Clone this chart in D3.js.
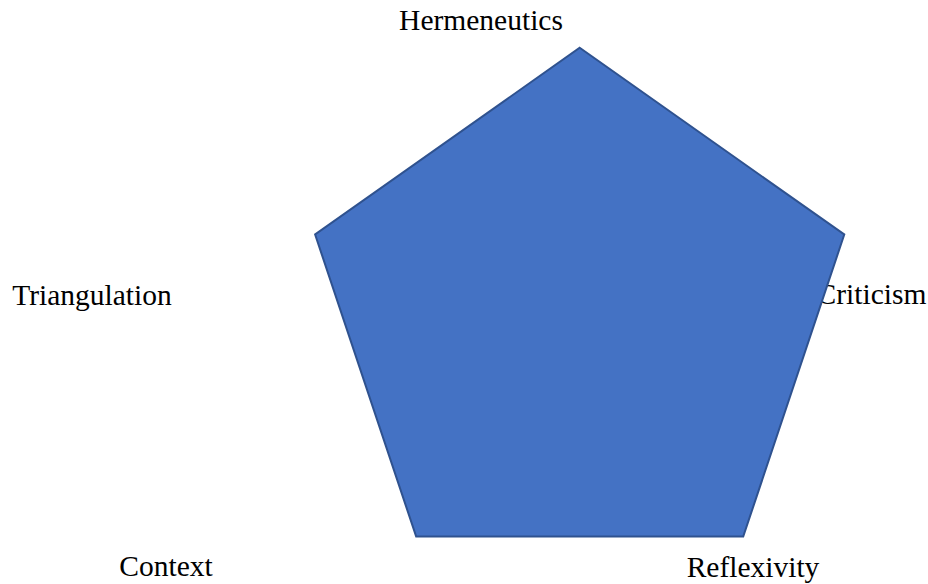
<!DOCTYPE html>
<html>
<head>
<meta charset="utf-8">
<script src="https://cdn.jsdelivr.net/npm/d3@7"></script>
<style>
  body { margin: 0; background: #fff; }
  svg { display: block; }
</style>
</head>
<body>
<div id="radar-chart"></div>
<script>
// Radar axes and the one filled series (every axis at the maximum)
const axes   = ["Hermeneutics", "Criticism", "Reflexivity", "Context", "Triangulation"];
const values = [5, 5, 5, 5, 5];
const maxValue = 5;

// Label anchors (text centre, baseline) as placed in the original layout
const labelPos = [
  [481, 30], [871.5, 304], [753, 577], [166, 576], [92, 305]
];

const drawRadarChart = () => {

  const width  = 928;
  const height = 584;
  const cx = 579.7;
  const cy = 318;

  const svg = d3.select("#radar-chart")
    .append("svg")
    .attr("width", width)
    .attr("height", height);

  // Labels go first: the polygon is painted over them (see "Criticism")
  svg.selectAll("text.axis-label")
    .data(axes)
    .join("text")
      .attr("class", "axis-label")
      .attr("x", (d, i) => labelPos[i][0])
      .attr("y", (d, i) => labelPos[i][1])
      .attr("text-anchor", "middle")
      .style("font-family", "'Liberation Serif', 'Times New Roman', serif")
      .style("font-size", "29.5px")
      .style("fill", "#000")
      .text(d => d);

  // Radius scales — the original is a touch wider than tall
  const rx = d3.scaleLinear().domain([0, maxValue]).range([0, 278.2]);
  const ry = d3.scaleLinear().domain([0, maxValue]).range([0, 270.2]);

  const angle = d3.scalePoint()
    .domain(d3.range(axes.length + 1))
    .range([0, 2 * Math.PI]);

  const pts = values.map((v, i) => [
    cx + rx(v) * Math.sin(angle(i)),
    cy - ry(v) * Math.cos(angle(i))
  ]);

  svg.append("path")
    .datum(pts)
    .attr("d", d3.line().curve(d3.curveLinearClosed))
    .attr("fill", "#4472C4")
    .attr("stroke", "#2F528F")
    .attr("stroke-width", 2)
    .attr("stroke-linejoin", "miter");
};

drawRadarChart();
</script>
</body>
</html>
